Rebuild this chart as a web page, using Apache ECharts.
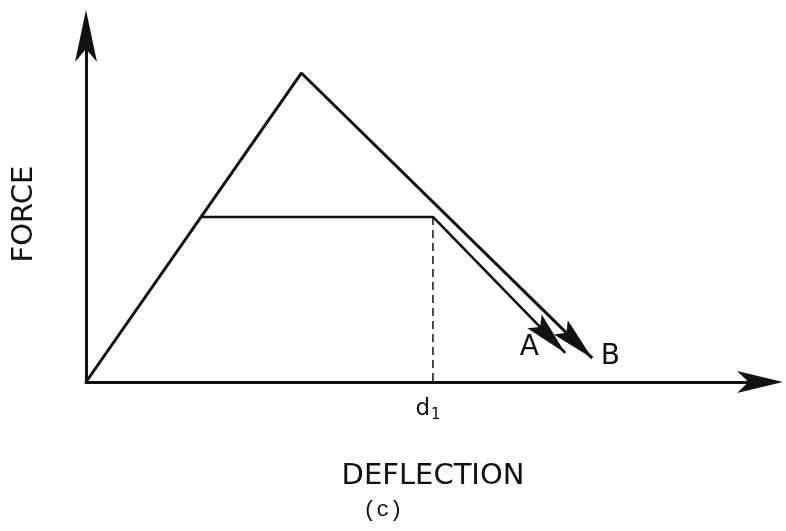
<!DOCTYPE html>
<html>
<head>
<meta charset="utf-8">
<script src="https://cdn.jsdelivr.net/npm/echarts@6/dist/echarts.min.js"></script>
<style>
html, body { margin: 0; padding: 0; background: #fff; }
#chart { width: 786px; height: 531px; }
</style>
</head>
<body>
<div id="chart"></div>
<script>
// loading path: origin -> peak -> unloading to B
const pathB = [[0, 0], [31.9, 89.3], [75.0, 6.9]];
// plateau path -> unloading to A
const pathA = [[17.2, 47.7], [51.4, 47.7], [71.0, 8.4]];
// d1 position on deflection axis
const d1 = 51.4;
const dashLine = [[d1, 47.7], [d1, 0]];
const xLabels = [d1];
// arrow heads: from x, from y, tip x, tip y
const arrowHeads = [
    [51.4, 47.7, 71.0, 8.4],
    [31.9, 89.3, 75.0, 6.9]
];
const arrowNames = ['A', 'B'];

const ink = '#111';
const font = 'DejaVu Sans';
const labelOffsets = [[-36, -5], [18, -1]];

let chart = echarts.init(document.getElementById('chart'), null, { renderer: 'canvas' });

let option = {
    animation: false,
    backgroundColor: '#fff',
    title: {
        text: '(c)',
        left: 358,
        top: 494,
        textStyle: { fontFamily: 'Liberation Mono', fontSize: 22, fontWeight: 'normal', color: ink }
    },
    grid: { left: 86, right: 25, top: 36, bottom: 149, containLabel: false, outerBoundsMode: 'none' },
    xAxis: {
        type: 'value',
        min: 0,
        max: 100,
        axisLine: {
            show: true,
            onZero: false,
            symbol: ['none', 'arrow'],
            symbolSize: [16.5, 46],
            symbolOffset: [0, 22],
            lineStyle: { color: ink, width: 3 }
        },
        axisTick: { show: false },
        splitLine: { show: false },
        axisLabel: {
            customValues: xLabels,
            margin: 16,
            padding: [0, 10, 0, 0],
            formatter: () => '{d|d}{s|1}',
            rich: {
                d: { fontFamily: font, fontSize: 23, color: ink, verticalAlign: 'top' },
                s: { fontFamily: font, fontSize: 15, color: ink, verticalAlign: 'top', padding: [10, 0, 0, 1] }
            }
        },
        name: 'DEFLECTION',
        nameLocation: 'middle',
        nameGap: 80,
        nameTextStyle: { fontFamily: font, fontSize: 29, color: ink, padding: [0, 0, 0, 19] }
    },
    yAxis: {
        type: 'value',
        min: 0,
        max: 100,
        axisLine: {
            show: true,
            onZero: false,
            symbol: ['none', 'arrow'],
            symbolSize: [16.5, 52],
            symbolOffset: [0, 26],
            lineStyle: { color: ink, width: 3 }
        },
        axisTick: { show: false },
        splitLine: { show: false },
        axisLabel: { show: false },
        name: 'FORCE',
        nameLocation: 'middle',
        nameRotate: 90,
        nameGap: 47,
        nameTextStyle: { fontFamily: font, fontSize: 29, color: ink, padding: [0, 10, 0, 0] }
    },
    series: [
        {
            type: 'line',
            data: pathB,
            symbol: 'none',
            silent: true,
            lineStyle: { color: ink, width: 3 }
        },
        {
            type: 'line',
            data: pathA,
            symbol: 'none',
            silent: true,
            lineStyle: { color: ink, width: 2.6 }
        },
        {
            type: 'line',
            data: dashLine,
            symbol: 'none',
            silent: true,
            lineStyle: { color: ink, width: 1.5, type: [8, 5] }
        },
        {
            type: 'custom',
            data: arrowHeads,
            encode: { x: [0, 2], y: [1, 3] },
            silent: true,
            renderItem: function (params, api) {
                const p0 = api.coord([api.value(0), api.value(1)]);
                const p1 = api.coord([api.value(2), api.value(3)]);
                const dx = p1[0] - p0[0];
                const dy = p1[1] - p0[1];
                const len = Math.sqrt(dx * dx + dy * dy);
                const ux = dx / len, uy = dy / len;
                const nx = -uy, ny = ux;
                const L = 44, W = 10;
                const pts = [
                    [p1[0], p1[1]],
                    [p1[0] - L * ux + W * nx, p1[1] - L * uy + W * ny],
                    [p1[0] - 0.82 * L * ux, p1[1] - 0.82 * L * uy],
                    [p1[0] - L * ux - W * nx, p1[1] - L * uy - W * ny]
                ];
                const off = labelOffsets[params.dataIndex];
                return {
                    type: 'group',
                    children: [
                        { type: 'polygon', shape: { points: pts }, style: { fill: ink } },
                        {
                            type: 'text',
                            x: p1[0] + off[0],
                            y: p1[1] + off[1],
                            style: {
                                text: arrowNames[params.dataIndex],
                                fontFamily: font,
                                fontSize: 28,
                                fill: ink,
                                align: 'center',
                                verticalAlign: 'middle'
                            }
                        }
                    ]
                };
            }
        }
    ]
};

chart.setOption(option);
</script>
</body>
</html>
